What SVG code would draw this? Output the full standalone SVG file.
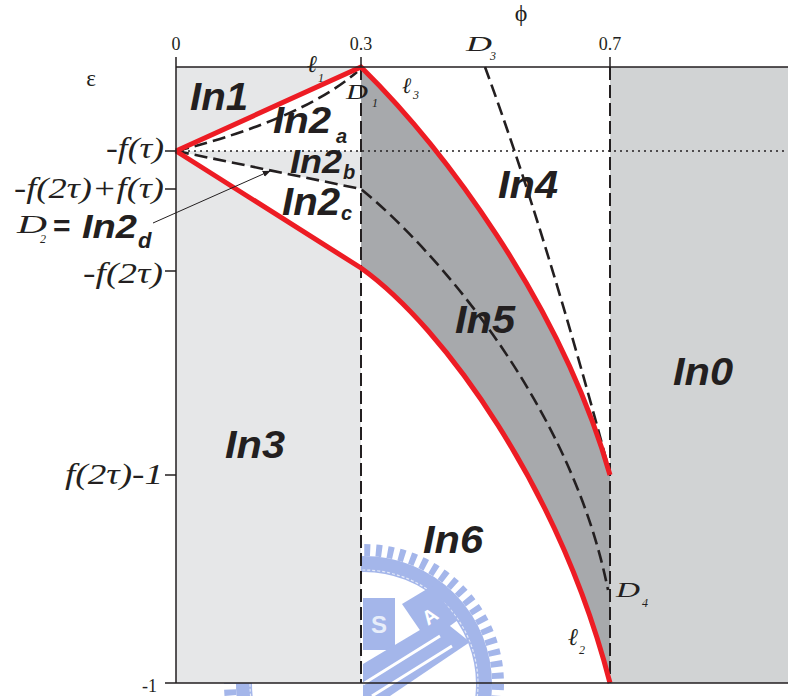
<svg xmlns="http://www.w3.org/2000/svg" width="788" height="696" viewBox="0 0 788 696">
<style>
.ax{stroke:#231f20;stroke-width:1.5;fill:none}
.vd{stroke:#231f20;stroke-width:2;fill:none;stroke-dasharray:13 5}
.dl{stroke:#231f20;stroke-width:2.6;fill:none;stroke-dasharray:13 6}
.red{stroke:#ed1c24;stroke-width:5;fill:none;stroke-linejoin:miter}
.axl{font-family:"Liberation Serif","DejaVu Serif",serif;font-style:italic;font-size:30px;fill:#231f20}
.num{font-family:"Liberation Serif","DejaVu Serif",serif;font-size:18px;fill:#231f20}
.reg{font-family:"Liberation Sans",Arial,sans-serif;font-weight:bold;font-style:italic;font-size:38px;fill:#231f20}
.sub{font-family:"Liberation Sans",Arial,sans-serif;font-weight:bold;font-style:italic;font-size:20px;fill:#231f20}
.scr{font-family:"Liberation Serif","DejaVu Serif",serif;font-style:italic;font-size:24px;fill:#231f20}
.ss{font-family:"Liberation Serif","DejaVu Serif",serif;font-style:italic;font-size:12px;fill:#231f20}
.wm{fill:#a4b6ea}
</style>
<defs>
<marker id="ah" viewBox="0 0 10 10" refX="9" refY="5" markerWidth="8" markerHeight="8" markerUnits="userSpaceOnUse" orient="auto">
<path d="M0,1 L10,5 L0,9 Z" fill="#231f20"/>
</marker>
</defs>
<rect width="788" height="696" fill="#ffffff"/>

<g id="watermark">
<circle cx="364" cy="684" r="134" fill="none" stroke="#a4b6ea" stroke-width="12" stroke-dasharray="6 5.694"/>
<circle cx="364" cy="684" r="120" fill="none" stroke="#a4b6ea" stroke-width="16"/>
<circle cx="364" cy="684" r="114" fill="none" stroke="#e4eaf8" stroke-width="1.2" stroke-dasharray="3 2"/>
<rect class="wm" x="363" y="598" width="32" height="52"/>
<polygon class="wm" points="402,604 432,586 458,620 428,642"/>
<polygon class="wm" points="363,664 440,618 470,642 390,696 363,696"/>
<path d="M363,684 L440,636 M372,696 L452,646" stroke="#ffffff" stroke-width="3" fill="none"/>
<text x="379" y="633" text-anchor="middle" font-family="Liberation Sans, Arial, sans-serif" font-weight="bold" font-size="24" fill="#e8eefa">S</text>
<text x="430" y="623" text-anchor="middle" font-family="Liberation Sans, Arial, sans-serif" font-weight="bold" font-size="20" fill="#ffffff" transform="rotate(-35 430 616)">A</text>
</g>

<g id="regions">
<rect id="In3-fill" x="176" y="67" width="185" height="616" fill="#e6e7e8"/>
<rect id="In0-fill" x="610" y="67" width="178" height="616" fill="#d1d3d4"/>
<path id="In2-fill" d="M176,151 L361,67 L361,268 Z" fill="#ffffff"/>
<path id="In2b-fill" d="M176,151 L361,151 L361,189 Z" fill="#e6e7e8"/>
<path id="In5-fill" d="M361,67 C440,145 560,300 610,475 L610,683 C560,490 445,328 361,268 Z" fill="#a7a9ac"/>
</g>

<g id="connectors">
<line x1="176" y1="151" x2="788" y2="151" stroke="#231f20" stroke-width="1.3" stroke-dasharray="2 4"/>
<line class="vd" x1="361" y1="67" x2="361" y2="683"/>
<line class="vd" x1="610" y1="67" x2="610" y2="683"/>
<path class="dl" d="M176,151 Q300,120 357,72"/>
<path class="dl" d="M176,151 L361,189 C430,245 570,400 608,590"/>
<path class="dl" d="M485,67 Q545,230 609,470"/>
<path class="red" d="M176,151 L361,67 C440,145 560,300 610,475"/>
<path class="red" d="M176,151 L361,268 C445,328 560,490 610,683"/>
<line x1="153" y1="223" x2="270" y2="171" stroke="#231f20" stroke-width="1" marker-end="url(#ah)"/>
</g>

<g id="axes">
<path class="ax" d="M176,67 H788 M176,67 V683 M165,683 H788"/>
<path class="ax" d="M176,57 V67 M361,57 V67 M610,57 V67"/>
<path class="ax" d="M165,151 H176 M165,189 H176 M165,271 H176 M165,475 H176"/>
<text class="num" x="176" y="50" text-anchor="middle">0</text>
<text class="num" x="361" y="50" text-anchor="middle">0.3</text>
<text class="num" x="610" y="50" text-anchor="middle">0.7</text>
<text class="num" x="521" y="21" text-anchor="middle" style="font-size:24px">ϕ</text>
<text class="num" x="91" y="86" text-anchor="middle" style="font-size:23px">ε</text>
<text class="num" x="157" y="692" text-anchor="end">-1</text>
<text class="axl" x="164" y="158" text-anchor="end" textLength="58" lengthAdjust="spacingAndGlyphs">-f(τ)</text>
<text class="axl" x="164" y="198" text-anchor="end" textLength="150" lengthAdjust="spacingAndGlyphs">-f(2τ)+f(τ)</text>
<text class="axl" x="163" y="283" text-anchor="end" textLength="80" lengthAdjust="spacingAndGlyphs">-f(2τ)</text>
<text class="axl" x="163" y="484" text-anchor="end" textLength="98" lengthAdjust="spacingAndGlyphs">f(2τ)-1</text>
</g>

<g id="In1"><text class="reg" x="190" y="110" textLength="58" lengthAdjust="spacingAndGlyphs">In1</text></g>
<g id="In2a"><text class="reg" x="273" y="133" style="font-size:36px" textLength="58" lengthAdjust="spacingAndGlyphs">In2</text><text class="sub" x="336" y="143">a</text></g>
<g id="In2b"><text class="reg" x="290" y="173" style="font-size:34px" textLength="52" lengthAdjust="spacingAndGlyphs">In2</text><text class="sub" x="343" y="179">b</text></g>
<g id="In2c"><text class="reg" x="282" y="215" textLength="58" lengthAdjust="spacingAndGlyphs">In2</text><text class="sub" x="341" y="220">c</text></g>
<g id="In2d-label">
<text class="scr" x="17" y="233" style="font-size:26px" textLength="30" lengthAdjust="spacingAndGlyphs">D</text><text class="ss" x="40" y="243">2</text>
<text class="reg" x="53" y="236" style="font-size:30px;font-style:normal">=</text>
<text class="reg" x="82" y="238" style="font-size:33px" textLength="55" lengthAdjust="spacingAndGlyphs">In2</text><text class="sub" x="138" y="248" style="font-size:22px">d</text>
</g>
<g id="In3"><text class="reg" x="225" y="458" textLength="60" lengthAdjust="spacingAndGlyphs">In3</text></g>
<g id="In4"><text class="reg" x="498" y="198" textLength="60" lengthAdjust="spacingAndGlyphs">In4</text></g>
<g id="In5"><text class="reg" x="455" y="333" textLength="60" lengthAdjust="spacingAndGlyphs">In5</text></g>
<g id="In6"><text class="reg" x="423" y="553" textLength="60" lengthAdjust="spacingAndGlyphs">In6</text></g>
<g id="In0"><text class="reg" x="673" y="385" textLength="60" lengthAdjust="spacingAndGlyphs">In0</text></g>

<g id="curve-labels">
<text class="scr" x="307" y="72">ℓ</text><text class="ss" x="318" y="82">1</text>
<text class="scr" x="402" y="93" style="font-size:22px">ℓ</text><text class="ss" x="413" y="99">3</text>
<text class="scr" x="568" y="645">ℓ</text><text class="ss" x="579" y="654">2</text>
<text class="scr" x="346" y="99" style="font-size:22px" textLength="22" lengthAdjust="spacingAndGlyphs">D</text><text class="ss" x="372" y="107">1</text>
<text class="scr" x="466" y="51" style="font-size:22px" textLength="26" lengthAdjust="spacingAndGlyphs">D</text><text class="ss" x="490" y="60">3</text>
<text class="scr" x="616" y="597" style="font-size:22px" textLength="24" lengthAdjust="spacingAndGlyphs">D</text><text class="ss" x="642" y="607">4</text>
</g>
</svg>
